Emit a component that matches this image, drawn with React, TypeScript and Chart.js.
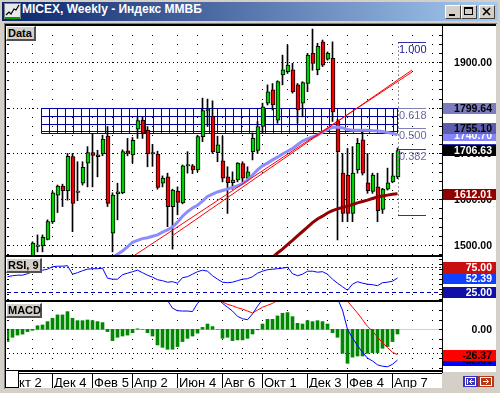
import React, { useEffect, useRef } from "react";
import { Chart, registerables } from "chart.js";
Chart.register(...registerables);

// ---------- data (weekly, index 0 = week of 2 Oct 2006) ----------
const FIRST_WEEK = -5;
const timeLabels = ["Окт 2", "Дек 4", "Фев 5", "Апр 2", "Июн 4", "Авг 6", "Окт 1", "Дек 3", "Фев 4", "Апр 7"];
const timeLabelWeeks = [-5, 4, 12, 20, 29, 38, 46, 55, 63, 72];
const monthWeeks = [0, 4, 8, 12, 16, 20, 24, 29, 33, 38, 42, 46, 51, 55, 59, 63, 67, 72, 76, 80];

const opens = [1380, 1400, 1425, 1440, 1455,
  1470, 1497, 1498, 1512, 1551, 1609, 1629, 1619, 1693, 1615,
  1635, 1679, 1702, 1693, 1699, 1738, 1526, 1612, 1614, 1706,
  1697, 1753, 1773, 1751, 1699, 1699, 1635, 1649, 1584, 1618,
  1592, 1673, 1673, 1664, 1737, 1793, 1782, 1702, 1684, 1649,
  1636, 1642, 1678, 1646, 1704, 1707, 1759, 1810, 1839, 1773,
  1872, 1879, 1883, 1850, 1810, 1853, 1919, 1883, 1944, 1906,
  1908, 1771, 1657, 1653, 1569, 1664, 1730, 1636, 1617, 1627,
  1578, 1622, 1638, 1649];
const highs = [1405, 1430, 1447, 1462, 1476,
  1507, 1522, 1522, 1555, 1617, 1631, 1633, 1700, 1700, 1682,
  1682, 1715, 1744, 1707, 1740, 1759, 1614, 1635, 1708, 1733,
  1735, 1780, 1780, 1759, 1720, 1705, 1651, 1657, 1622, 1627,
  1675, 1704, 1676, 1740, 1821, 1819, 1815, 1738, 1738, 1671,
  1660, 1680, 1682, 1671, 1745, 1770, 1810, 1850, 1853, 1859,
  1915, 1937, 1897, 1853, 1857, 1919, 1972, 1941, 1948, 1922,
  1944, 1775, 1700, 1711, 1715, 1733, 1751, 1700, 1657, 1657,
  1624, 1668, 1700, 1712];
const lows = [1370, 1390, 1410, 1425, 1440,
  1465, 1485, 1485, 1511, 1547, 1571, 1584, 1598, 1529, 1597,
  1631, 1627, 1627, 1649, 1695, 1584, 1485, 1555, 1612, 1695,
  1679, 1733, 1733, 1671, 1672, 1622, 1627, 1540, 1491, 1566,
  1590, 1657, 1656, 1660, 1726, 1759, 1700, 1682, 1638, 1569,
  1622, 1638, 1638, 1644, 1686, 1700, 1744, 1806, 1795, 1766,
  1850, 1875, 1832, 1766, 1780, 1835, 1882, 1872, 1890, 1904,
  1770, 1511, 1551, 1551, 1551, 1657, 1653, 1613, 1613, 1551,
  1569, 1620, 1636, 1645];
const closes = [1400, 1425, 1440, 1455, 1470,
  1504, 1500, 1517, 1551, 1614, 1629, 1619, 1694, 1591, 1618,
  1670, 1702, 1696, 1697, 1731, 1591, 1609, 1616, 1704, 1700,
  1729, 1772, 1744, 1699, 1702, 1626, 1646, 1584, 1620, 1593,
  1673, 1676, 1664, 1737, 1794, 1796, 1704, 1719, 1646, 1636,
  1642, 1679, 1646, 1660, 1733, 1759, 1802, 1835, 1806, 1857,
  1883, 1893, 1835, 1795, 1855, 1915, 1897, 1934, 1893, 1919,
  1791, 1704, 1569, 1569, 1657, 1722, 1657, 1619, 1653, 1575,
  1622, 1636, 1651, 1706.63];

const maFastFrom = 13;
const maFast = [1462, 1466, 1470, 1473, 1480, 1487, 1496, 1506, 1510, 1514, 1516, 1519, 1522,
  1528, 1533, 1539, 1550, 1563, 1573, 1581, 1587, 1596, 1606, 1611, 1616, 1619, 1622, 1626,
  1629, 1634, 1642, 1653, 1664, 1673, 1679, 1686, 1692, 1699, 1705, 1711, 1719, 1727, 1732,
  1736, 1740, 1747, 1752, 1757, 1758, 1756, 1752.5, 1751, 1751, 1751, 1751, 1750, 1749, 1748,
  1746, 1744, 1740.7];
const maSlowFrom = 46;
const maSlow = [1460, 1466, 1473, 1482.5, 1491, 1501, 1510, 1520, 1529.5, 1539, 1549, 1557,
  1563, 1570, 1575, 1579, 1582, 1585, 1588.5, 1592, 1595, 1598, 1601.6, 1605, 1607, 1609,
  1611, 1612.01];

const trendA = [{ w: 19.9, v: 1473.8 }, { w: 75.9, v: 1878.1 }];
const trendB = [{ w: 27.9, v: 1519.7 }, { w: 75.9, v: 1882.5 }];

const fibLow = 1566.35;
const fibHigh = 1943.85;
const fibLevels = [1, 0.618, 0.5, 0.382, 0];
const fibStartWeek = 73;
const fibEndWeek = 78.7;

const zoneStartWeek = 1.7;
const zoneEndWeek = 73;
const zoneCellWeeks = 1.6;
const zoneLevels = [1799.64, 1782, 1765, 1749, 1744];

const priceTicks = [1500, 1600, 1700, 1800, 1900];

const rsi = [55, 57, 58, 58, 61,
  65, 66, 68, 70, 75, 76, 76, 77, 60, 63,
  67, 70, 71, 71, 72, 52, 50, 50, 59, 62,
  65, 68, 63, 58, 54, 49, 47, 44, 45, 42,
  53, 55, 60, 65, 68, 66, 57, 50, 44, 43,
  44, 47, 50, 51, 55, 62, 66, 69, 70, 71,
  72, 74, 61, 57, 60, 66, 66, 64, 65, 60,
  50, 42, 35, 28, 40, 45, 42, 40, 39, 37,
  43, 44, 46, 52.39];
const rsiUpper = 75;
const rsiLower = 25;

const macdHist = [-12.8, -8.3, -6, -5, -2.4,
  -1, 3.7, 4.5, 8, 11.5, 15, 15, 18.4, 11.5, 9,
  9, 9.7, 9, 8, 7, -2.4, -11.8, -8.3, -7, -6,
  -3.5, 0.5, 0, -3.5, -7, -16.3, -18.8, -20.8, -20.8, -18,
  -12.8, -9.4, -7, -4, 2, 5.5, 2.8, 0, -9.4, -8.3,
  -11.8, -11, -11, -9.4, -4.9, -0.5, 5.5, 10.4, 10.4, 13.9,
  16.7, 17.4, 13.2, 6.2, 5.5, 9, 8, 9, 8, 5.5,
  -3.5, -8.3, -25, -35.4, -29, -27.8, -27.8, -25, -24.3, -24.3,
  -19.8, -18, -12.8, -4.9];
const macdLine = [40, 38, 37, 36, 36,
  37, 40, 44, 48, 52, 56, 60, 62, 62, 63,
  63, 64, 64, 64, 62, 56, 52, 48, 46, 45,
  46, 47, 47, 46, 44, 42, 36,
  30, 22, 19.4, 19, 19, 18.5, 27, 33, 38, 36, 32, 27, 23, 19, 13.5, 11, 10, 16, 24, 31,
  36, 40, 45, 50, 55, 57, 55, 54, 55, 56, 57, 57, 56, 48, 32, 20, 0, -9, -17, -24, -30,
  -33, -37, -38.5, -39, -36.5, -32.01];
const macdSignal = [45, 44, 43, 42, 41,
  40, 40, 41, 43, 45, 47, 50, 52, 54, 55,
  56, 57, 58, 59, 59, 58, 56, 54, 52, 50,
  49, 48, 46, 43, 40, 38, 36, 34, 33, 32,
  32, 32.5, 31, 31, 31, 31, 30, 30,
  28.5, 26, 24.5, 22.5, 21, 19, 17, 20, 23, 25, 27, 30, 34, 38, 42, 45, 47, 49, 50, 51,
  52, 53, 52, 45, 37, 29.5, 23, 17, 10, 3, -2, -8, -14, -19, -24, -26.37];

// ---------- layout / style constants ----------
const X_MIN = -5.1;
const X_MAX = 81.9;
const BODY_SHIFT = 0.1;
const PRICE_MIN = 1478.14;
const PRICE_MAX = 1978.69;
const RSI_MIN = 8.4;
const RSI_MAX = 94.4;
const MACD_MIN = -42.4;
const MACD_MAX = 28.44;
const GREEN = "#00D000";
const RED = "#F00000";
const FONT_VAL = 'bold 10.5px "Liberation Sans", Arial, sans-serif';
const FONT_AXIS = '13px "Liberation Sans", Arial, sans-serif';
const FONT_FIB = '11px "Liberation Sans", Arial, sans-serif';
const RIGHT_X = 443;

const weekOf = (i: number) => i + FIRST_WEEK;
const seriesFrom = (start: number, vals: number[]) => vals.map((v, j) => ({ x: start + j, y: v }));
const fibValue = (r: number) => fibLow + r * (fibHigh - fibLow);

function drawBox(ctx: any, cy: number, text: string, bg: string, fg: string) {
  const top = Math.round(cy) - 5;
  ctx.fillStyle = bg;
  ctx.fillRect(RIGHT_X, top, 53, 11);
  ctx.fillStyle = fg;
  ctx.font = FONT_VAL;
  ctx.textAlign = "right";
  ctx.textBaseline = "alphabetic";
  ctx.fillText(text, 492, top + 9);
}

function dotColumns(ctx: any, chart: any, values: number[]) {
  const x = chart.scales.x, y = chart.scales.y;
  ctx.fillStyle = "#000";
  for (const k of monthWeeks) {
    const px = Math.floor(x.getPixelForValue(k));
    if (px < chart.chartArea.left || px >= chart.chartArea.right) continue;
    for (const v of values) ctx.fillRect(px, Math.round(y.getPixelForValue(v)), 1, 1);
  }
}

function rangeStep(a: number, b: number, s: number) {
  const out: number[] = [];
  for (let v = a; v <= b + 1e-9; v += s) out.push(v);
  return out;
}

const baseOptions = (padding: any, yMin: number, yMax: number, extraScales: any = {}) => ({
  responsive: false,
  animation: false,
  devicePixelRatio: 1,
  events: [],
  layout: { padding },
  scales: {
    x: { type: "linear", display: false, min: X_MIN, max: X_MAX, offset: false },
    ...extraScales,
    y: { type: "linear", display: false, min: yMin, max: yMax },
  },
  plugins: { legend: { display: false }, tooltip: { enabled: false } },
});

// ---------- main price panel ----------
const mainDeco = {
  id: "mainDeco",
  beforeDatasetsDraw(chart: any) {
    const { ctx, chartArea: a } = chart;
    const x = chart.scales.x, y = chart.scales.y;
    ctx.save();
    ctx.fillStyle = "#000";
    for (const v of priceTicks) {
      const py = Math.round(y.getPixelForValue(v));
      for (let px = a.left + 2; px < a.right; px += 4) ctx.fillRect(px, py, 1, 1);
    }
    dotColumns(ctx, chart, rangeStep(1480, 1960, 20));
    // price zone grid
    ctx.strokeStyle = "#0000A8";
    ctx.lineWidth = 1;
    const x0 = Math.round(x.getPixelForValue(zoneStartWeek)) + 0.5;
    const x1 = Math.round(x.getPixelForValue(zoneEndWeek)) - 0.5;
    const yt = Math.round(y.getPixelForValue(zoneLevels[0])) + 0.5;
    const yb = Math.round(y.getPixelForValue(zoneLevels[zoneLevels.length - 1])) + 0.5;
    ctx.beginPath();
    for (const v of zoneLevels) {
      const py = Math.round(y.getPixelForValue(v)) + 0.5;
      ctx.moveTo(x0, py); ctx.lineTo(x1, py);
    }
    for (let k = zoneStartWeek; k <= zoneEndWeek; k += zoneCellWeeks) {
      const px = Math.round(x.getPixelForValue(k)) + 0.5;
      ctx.moveTo(px, yt); ctx.lineTo(px, yb);
    }
    ctx.moveTo(x1, yt); ctx.lineTo(x1, yb);
    ctx.stroke();
    ctx.restore();
  },
  afterDatasetsDraw(chart: any) {
    const { ctx } = chart;
    const x = chart.scales.x, y = chart.scales.y;
    ctx.save();
    const fx0 = Math.round(x.getPixelForValue(fibStartWeek));
    const fx1 = Math.round(x.getPixelForValue(fibEndWeek));
    // vertical dashed
    ctx.strokeStyle = "#909090";
    ctx.setLineDash([2, 2]);
    ctx.beginPath();
    ctx.moveTo(fx0 + 0.5, Math.round(y.getPixelForValue(fibValue(1))));
    ctx.lineTo(fx0 + 0.5, Math.round(y.getPixelForValue(fibValue(0))));
    ctx.stroke();
    ctx.setLineDash([]);
    ctx.font = FONT_FIB;
    ctx.textAlign = "left";
    ctx.textBaseline = "top";
    for (const r of fibLevels) {
      const py = Math.round(y.getPixelForValue(fibValue(r))) + 0.5;
      const col = r === 0.618 || r === 0.5 ? "#8080B8" : "#3030A0";
      ctx.strokeStyle = col;
      ctx.beginPath(); ctx.moveTo(fx0, py); ctx.lineTo(fx1, py); ctx.stroke();
      if (r > 0) {
        ctx.fillStyle = r === 1 ? "#202098" : "#6868A0";
        ctx.fillText(r.toFixed(3), fx0 + 1, py + 1.5);
      }
    }
    ctx.restore();
  },
  afterDraw(chart: any) {
    const { ctx, chartArea: a } = chart;
    const y = chart.scales.y;
    ctx.save();
    ctx.fillStyle = "#000";
    for (const v of rangeStep(1480, 1960, 20)) {
      const py = Math.round(y.getPixelForValue(v));
      ctx.fillRect(a.left, py, 2, 1);
      ctx.fillRect(a.right - 3, py, 3, 1);
    }
    ctx.font = FONT_VAL;
    ctx.textAlign = "right";
    ctx.textBaseline = "alphabetic";
    for (const v of priceTicks) {
      const py = Math.round(y.getPixelForValue(v));
      ctx.fillText(v.toFixed(2), 492, py + 4);
    }
    const last = closes.length - 1;
    drawBox(ctx, y.getPixelForValue(fibValue(0.618)), fibValue(0.618).toFixed(2), "#7C7CC0", "#000");
    drawBox(ctx, y.getPixelForValue(maFast[maFast.length - 1]), maFast[maFast.length - 1].toFixed(2), "#8484FF", "#fff");
    drawBox(ctx, y.getPixelForValue(fibValue(0.5)), fibValue(0.5).toFixed(2), "#5E5EB0", "#000");
    drawBox(ctx, y.getPixelForValue(fibValue(0.382)), fibValue(0.382).toFixed(2), "#3030B0", "#fff");
    drawBox(ctx, y.getPixelForValue(closes[last]), closes[last].toFixed(2), "#000", "#fff");
    drawBox(ctx, y.getPixelForValue(maSlow[maSlow.length - 1]), maSlow[maSlow.length - 1].toFixed(2), "#900000", "#fff");
    ctx.restore();
  },
};

function mainConfig(): any {
  return {
    type: "bar",
    data: {
      datasets: [
        {
          type: "bar", data: lows.map((l, i) => ({ x: weekOf(i), y: [l, highs[i]] })),
          backgroundColor: "#000", barThickness: 1, grouped: false, order: 6, xAxisID: "x", clip: 0,
        },
        {
          type: "bar", data: opens.map((o, i) => ({ x: weekOf(i), y: [o, closes[i]] })),
          backgroundColor: (c: any) => {
            const i = c.dataIndex;
            if (i == null) return GREEN;
            return closes[i] >= opens[i] ? GREEN : RED;
          },
          borderColor: "#000", borderWidth: 1, borderSkipped: false, barThickness: 4,
          grouped: false, order: 5, xAxisID: "xb", clip: 0,
        },
        {
          type: "line", data: seriesFrom(maFastFrom, maFast), borderColor: "#8C8CFF", borderWidth: 3,
          pointRadius: 0, order: 3, xAxisID: "x", clip: 0,
        },
        {
          type: "line", data: seriesFrom(maSlowFrom, maSlow), borderColor: "#940000", borderWidth: 3,
          pointRadius: 0, order: 3, xAxisID: "x", clip: 0,
        },
        {
          type: "line", data: trendA.map((p) => ({ x: p.w, y: p.v })), borderColor: "#FF0000", borderWidth: 1,
          pointRadius: 0, order: 1, xAxisID: "x", clip: 0,
        },
        {
          type: "line", data: trendB.map((p) => ({ x: p.w, y: p.v })), borderColor: "#FF0000", borderWidth: 1,
          pointRadius: 0, order: 1, xAxisID: "x", clip: 0,
        },
      ],
    },
    options: baseOptions({ left: 7, right: 58, top: 0, bottom: 0 }, PRICE_MIN, PRICE_MAX, {
      xb: { type: "linear", display: false, min: X_MIN - BODY_SHIFT, max: X_MAX - BODY_SHIFT, offset: false },
    }),
    plugins: [mainDeco],
  };
}

// ---------- RSI panel ----------
const rsiDeco = {
  id: "rsiDeco",
  beforeDatasetsDraw(chart: any) {
    const { ctx, chartArea: a } = chart;
    const y = chart.scales.y;
    ctx.save();
    dotColumns(ctx, chart, rangeStep(20, 80, 10));
    const lines = [
      { v: rsiUpper, c: "#C00000", d: [2, 2] },
      { v: rsiLower, c: "#0000B0", d: [4, 3] },
    ];
    for (const l of lines) {
      const py = Math.round(y.getPixelForValue(l.v)) + 0.5;
      ctx.strokeStyle = l.c; ctx.lineWidth = 1; ctx.setLineDash(l.d);
      ctx.beginPath(); ctx.moveTo(a.left, py); ctx.lineTo(a.right, py); ctx.stroke();
    }
    ctx.restore();
  },
  afterDraw(chart: any) {
    const { ctx, chartArea: a } = chart;
    const y = chart.scales.y;
    ctx.save();
    ctx.fillStyle = "#000";
    for (const v of rangeStep(10, 90, 10)) {
      const py = Math.round(y.getPixelForValue(v));
      ctx.fillRect(a.left, py, 2, 1);
      ctx.fillRect(a.right - 3, py, 3, 1);
    }
    drawBox(ctx, y.getPixelForValue(rsiUpper), rsiUpper.toFixed(2), "#C81010", "#fff");
    drawBox(ctx, y.getPixelForValue(rsi[rsi.length - 1]), rsi[rsi.length - 1].toFixed(2), "#1040FF", "#fff");
    drawBox(ctx, y.getPixelForValue(rsiLower), rsiLower.toFixed(2), "#1010A8", "#fff");
    ctx.restore();
  },
};

function rsiConfig(): any {
  return {
    type: "line",
    data: {
      datasets: [{
        data: rsi.map((v, i) => ({ x: weekOf(i), y: v })), borderColor: "#0000FF", borderWidth: 1,
        pointRadius: 0, clip: 0,
      }],
    },
    options: baseOptions({ left: 7, right: 58, top: 0, bottom: 0 }, RSI_MIN, RSI_MAX),
    plugins: [rsiDeco],
  };
}

// ---------- MACD panel + time axis ----------
const macdDeco = {
  id: "macdDeco",
  beforeDatasetsDraw(chart: any) {
    const { ctx, chartArea: a } = chart;
    const y = chart.scales.y;
    ctx.save();
    dotColumns(ctx, chart, rangeStep(-40, 20, 10));
    ctx.fillStyle = "#D0D0D0";
    ctx.fillRect(a.left, Math.round(y.getPixelForValue(0)), a.right - a.left, 1);
    ctx.fillStyle = "#000";
    const py = Math.round(y.getPixelForValue(-25));
    for (let px = a.left + 2; px < a.right; px += 4) ctx.fillRect(px, py, 1, 1);
    ctx.restore();
  },
  afterDraw(chart: any) {
    const { ctx, chartArea: a } = chart;
    const x = chart.scales.x, y = chart.scales.y;
    ctx.save();
    ctx.fillStyle = "#000";
    for (const v of rangeStep(-40, 20, 10)) {
      const py = Math.round(y.getPixelForValue(v));
      ctx.fillRect(a.left, py, 2, 1);
      ctx.fillRect(a.right - 3, py, 3, 1);
    }
    ctx.font = FONT_VAL;
    ctx.textAlign = "right";
    ctx.fillText((0).toFixed(2), 492, Math.round(y.getPixelForValue(0)) + 4);
    drawBox(ctx, y.getPixelForValue(macdLine[macdLine.length - 1]), macdLine[macdLine.length - 1].toFixed(2), "#0000FF", "#000");
    drawBox(ctx, y.getPixelForValue(macdSignal[macdSignal.length - 1]), macdSignal[macdSignal.length - 1].toFixed(2), "#FF0000", "#000");
    // time axis
    const top = a.bottom;
    ctx.fillStyle = "#fff";
    ctx.fillRect(a.left - 1, top, a.right - a.left + 1, chart.height - top);
    ctx.fillStyle = "#000";
    ctx.fillRect(a.left - 2, top, a.right - a.left + 2, 2);
    ctx.fillRect(19, top + 3, a.right - 19, 1);
    ctx.font = FONT_AXIS;
    ctx.textAlign = "left";
    ctx.textBaseline = "alphabetic";
    timeLabels.forEach((t, i) => {
      const px = Math.floor(x.getPixelForValue(timeLabelWeeks[i]));
      ctx.fillStyle = "#000";
      ctx.fillRect(px, top + 3, 1, chart.height - top - 3);
      ctx.fillText(t, px + 2, top + 16.5);
    });
    ctx.restore();
  },
};

function macdConfig(): any {
  return {
    type: "bar",
    data: {
      datasets: [
        {
          type: "bar", data: macdHist.map((v, i) => ({ x: weekOf(i), y: v })), backgroundColor: "#008800",
          barThickness: 3, grouped: false, order: 3, clip: 0,
        },
        {
          type: "line", data: macdLine.map((v, i) => ({ x: weekOf(i), y: v })), borderColor: "#0000FF",
          borderWidth: 1, pointRadius: 0, order: 1, clip: 0,
        },
        {
          type: "line", data: macdSignal.map((v, i) => ({ x: weekOf(i), y: v })), borderColor: "#FF0000",
          borderWidth: 1, pointRadius: 0, order: 1, clip: 0,
        },
      ],
    },
    options: baseOptions({ left: 7, right: 58, top: 0, bottom: 18 }, MACD_MIN, MACD_MAX),
    plugins: [macdDeco],
  };
}

// ---------- window chrome ----------
const bevel = {
  background: "#D4D0C8",
  borderTop: "1px solid #fff",
  borderLeft: "1px solid #fff",
  borderRight: "1px solid #404040",
  borderBottom: "1px solid #404040",
  boxSizing: "border-box" as const,
};

function TitleButton({ left, kind }: { left: number; kind: string }) {
  return (
    <div style={{ ...bevel, position: "absolute", left, top: 5, width: 16, height: 14 }}>
      <svg width={14} height={12} style={{ position: "absolute", left: 0, top: 0 }}>
        {kind === "min" && <rect x={3} y={8} width={6} height={2} fill="#000" />}
        {kind === "max" && (
          <g fill="none" stroke="#000">
            <rect x={2.5} y={1.5} width={8} height={7} />
            <line x1={2.5} y1={2.5} x2={10.5} y2={2.5} />
          </g>
        )}
        {kind === "close" && (
          <g stroke="#000" strokeWidth={1.6}>
            <line x1={3} y1={2} x2={10} y2={9} />
            <line x1={10} y1={2} x2={3} y2={9} />
          </g>
        )}
      </svg>
    </div>
  );
}

function PanelTag({ top, width, text }: { top: number; width: number; text: string }) {
  return (
    <div
      style={{
        position: "absolute", left: 6, top, width, height: 12, background: "#D4D0C8",
        borderTop: "1px solid #fff", borderLeft: "1px solid #fff",
        borderRight: "2px solid #505050", borderBottom: "2px solid #505050",
        font: 'bold 11px "Liberation Sans", Arial, sans-serif', lineHeight: "12px",
        paddingLeft: 1, color: "#000", boxSizing: "content-box", whiteSpace: "nowrap",
      }}
    >
      {text}
    </div>
  );
}

export default function App() {
  const mainRef = useRef<HTMLCanvasElement>(null);
  const rsiRef = useRef<HTMLCanvasElement>(null);
  const macdRef = useRef<HTMLCanvasElement>(null);

  useEffect(() => {
    const charts = [
      new Chart(mainRef.current as HTMLCanvasElement, mainConfig()),
      new Chart(rsiRef.current as HTMLCanvasElement, rsiConfig()),
      new Chart(macdRef.current as HTMLCanvasElement, macdConfig()),
    ];
    return () => charts.forEach((c) => c.destroy());
  }, []);

  const abs = (left: number, top: number, width: number, height: number, background: string): any => ({
    position: "absolute", left, top, width, height, background,
  });

  return (
    <div style={{ position: "fixed", left: 0, top: 0, width: 500, height: 393, background: "#D4D0C8", overflow: "hidden" }}>
      {/* title bar */}
      <div style={abs(2, 2, 496, 19, "linear-gradient(to right, #0A246A, #A6CAF0)")} />
      <svg width={17} height={17} style={{ position: "absolute", left: 4, top: 3 }}>
        <rect x={0.5} y={0.5} width={16} height={15} fill="#E8E8E8" stroke="#808080" />
        <polyline points="2,12 5,9 7,11 10,6 12,7 15,2" fill="none" stroke="#000" strokeWidth={1.2} />
        <line x1={1} y1={15} x2={16} y2={15} stroke="#00A000" strokeWidth={2} />
      </svg>
      <div
        style={{
          position: "absolute", left: 22, top: 2, height: 19, lineHeight: "19px", color: "#fff",
          font: 'bold 12px "Liberation Sans", Arial, sans-serif', whiteSpace: "nowrap",
        }}
      >
        MICEX, Weekly - Индекс ММВБ
      </div>
      <TitleButton left={445} kind="min" />
      <TitleButton left={461} kind="max" />
      <TitleButton left={479} kind="close" />

      {/* client area */}
      <div style={abs(4, 23, 493, 1, "#808080")} />
      <div style={abs(4, 23, 1, 366, "#808080")} />
      <div style={abs(5, 24, 491, 2, "#000")} />
      <div style={abs(5, 24, 1, 364, "#000")} />
      <div style={abs(6, 26, 490, 346, "#fff")} />

      <canvas ref={mainRef} width={500} height={229} style={{ position: "absolute", left: 0, top: 26 }} />
      <canvas ref={rsiRef} width={500} height={43} style={{ position: "absolute", left: 0, top: 257 }} />
      <canvas ref={macdRef} width={500} height={86} style={{ position: "absolute", left: 0, top: 302 }} />

      {/* panel separators and right edge */}
      <div style={abs(5, 255, 437, 2, "#000")} />
      <div style={abs(5, 300, 437, 2, "#000")} />
      <div style={abs(442, 26, 1, 347, "#000")} />
      <div style={{ ...abs(5, 370, 14, 18, "#fff"), border: "1px solid #000", boxSizing: "border-box" }} />

      <PanelTag top={26} width={26} text="Data" />
      <PanelTag top={258} width={32} text="RSI, 9" />
      <PanelTag top={303} width={32} text="MACD" />

      {/* bottom-right scroll buttons */}
      <div style={abs(443, 373, 57, 20, "#D4D0C8")} />
      <svg width={15} height={11} style={{ position: "absolute", left: 463, top: 376 }}>
        <rect x={0} y={0} width={15} height={11} fill="#3A32C0" />
        <rect x={2.5} y={1.5} width={10} height={8} fill="none" stroke="#fff" />
        <line x1={4.5} y1={3} x2={4.5} y2={8} stroke="#fff" />
        <polyline points="9,3 6.5,5.5 9,8" fill="none" stroke="#fff" />
        <line x1={6.5} y1={5.5} x2={11} y2={5.5} stroke="#fff" />
      </svg>
      <svg width={16} height={11} style={{ position: "absolute", left: 478, top: 376 }}>
        <rect x={0} y={0} width={16} height={11} fill="#B83818" />
        <rect x={2.5} y={1.5} width={11} height={8} fill="none" stroke="#fff" />
        <polyline points="8,3 10.5,5.5 8,8" fill="none" stroke="#fff" />
        <line x1={5} y1={5.5} x2={10.5} y2={5.5} stroke="#fff" />
      </svg>
    </div>
  );
}
